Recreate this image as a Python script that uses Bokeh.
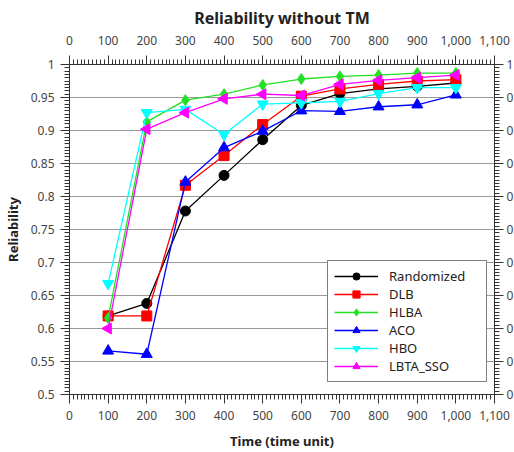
import numpy as np
from bokeh.plotting import figure
from bokeh.models import LinearAxis, Range1d, NumeralTickFormatter, FixedTicker, Legend
from bokeh.embed import file_html
from bokeh.resources import INLINE

times = [100, 200, 300, 400, 500, 600, 700, 800, 900, 1000]
randomized = [0.619, 0.638, 0.778, 0.832, 0.886, 0.938, 0.956, 0.963, 0.967, 0.972]
dlb = [0.619, 0.619, 0.817, 0.862, 0.909, 0.952, 0.963, 0.970, 0.975, 0.977]
hlba = [0.616, 0.913, 0.946, 0.955, 0.969, 0.978, 0.982, 0.984, 0.987, 0.987]
aco = [0.566, 0.561, 0.822, 0.874, 0.899, 0.930, 0.929, 0.936, 0.939, 0.954]
hbo = [0.668, 0.927, 0.932, 0.894, 0.940, 0.942, 0.944, 0.956, 0.965, 0.965]
lbta_sso = [0.600, 0.902, 0.927, 0.948, 0.955, 0.953, 0.970, 0.976, 0.980, 0.984]

series = [
    ("Randomized", randomized, "black", "circle", 0.0, 10),
    ("DLB", dlb, "#ff0000", "square", 0.0, 10),
    ("HLBA", hlba, "#22e022", "diamond", 0.0, 11),
    ("ACO", aco, "#0000ff", "triangle", 0.0, 11),
    ("HBO", hbo, "#00ffff", "inverted_triangle", 0.0, 11),
    ("LBTA_SSO", lbta_sso, "#ff00ff", "triangle", np.pi / 2, 11),
]

FONT = "Noto Sans"
LABEL_COLOR = "#444444"

p = figure(frame_width=425, frame_height=330, output_backend="svg", toolbar_location=None,
           x_range=Range1d(0, 1100), y_range=Range1d(0.5, 1.0),
           min_border_left=61, min_border_right=0, min_border_top=64, min_border_bottom=5)
p.title.text = "Reliability without TM"
p.title.align = "center"
p.title.text_font = FONT
p.title.text_font_size = "16px"
p.title.text_font_style = "bold"
p.title.text_color = "#222222"
p.title.standoff = 7
p.outline_line_color = None

xticks = FixedTicker(ticks=list(range(0, 1101, 100)), minor_ticks=list(range(0, 1101, 10)))
yticks = FixedTicker(ticks=[round(0.5 + 0.05 * i, 2) for i in range(11)],
                     minor_ticks=[round(0.5 + 0.005 * i, 3) for i in range(101)])

def style_axis(ax, standoff):
    ax.major_label_text_font = FONT
    ax.major_label_text_font_size = "12px"
    ax.major_label_text_color = LABEL_COLOR
    ax.major_label_standoff = standoff
    ax.axis_label_text_font = FONT
    ax.axis_label_text_font_size = "13px"
    ax.axis_label_text_font_style = "bold"
    ax.axis_label_text_color = "#222222"
    ax.axis_line_color = "#333333"
    ax.major_tick_line_color = "#333333"
    ax.minor_tick_line_color = "#333333"
    ax.major_tick_out = 9
    ax.major_tick_in = 0
    ax.minor_tick_out = 5
    ax.minor_tick_in = 0

p.xaxis.ticker = xticks
p.xaxis.formatter = NumeralTickFormatter(format="0,0")
p.xaxis.axis_label = "Time (time unit)"
p.xaxis.axis_label_standoff = 9
p.yaxis.ticker = yticks
p.yaxis.formatter = NumeralTickFormatter(format="0.[00]")
p.yaxis.axis_label = "Reliability"
p.yaxis.axis_label_standoff = 6
style_axis(p.xaxis[0], 7)
style_axis(p.yaxis[0], 6)

top = LinearAxis(ticker=xticks, formatter=NumeralTickFormatter(format="0,0"))
style_axis(top, 11)
p.add_layout(top, "above")
right = LinearAxis(ticker=yticks, formatter=NumeralTickFormatter(format="0.[00]"))
style_axis(right, 3)
p.add_layout(right, "right")

p.xgrid.grid_line_color = None
p.ygrid.ticker = yticks
p.ygrid.grid_line_color = "#999999"
p.ygrid.grid_line_width = 1

items = []
for name, vals, color, marker, ang, size in series:
    l = p.line(times, vals, line_color=color, line_width=1.3)
    s = p.scatter(times, vals, marker=marker, size=size, angle=ang,
                  fill_color=color, line_color=color)
    items.append((name, [l, s]))

legend = Legend(items=items)
legend.label_text_font = FONT
legend.label_text_font_size = "13px"
legend.label_text_color = "#222222"
legend.border_line_color = "black"
legend.border_line_width = 1
legend.background_fill_alpha = 1
legend.glyph_width = 44
legend.glyph_height = 18
legend.label_height = 18
legend.spacing = 0
legend.padding = 6
legend.label_standoff = 11
legend.label_width = 91
legend.margin = 0
legend.location = (258, 12)
p.add_layout(legend, "center")

open("out.html", "w").write(file_html(p, INLINE))
